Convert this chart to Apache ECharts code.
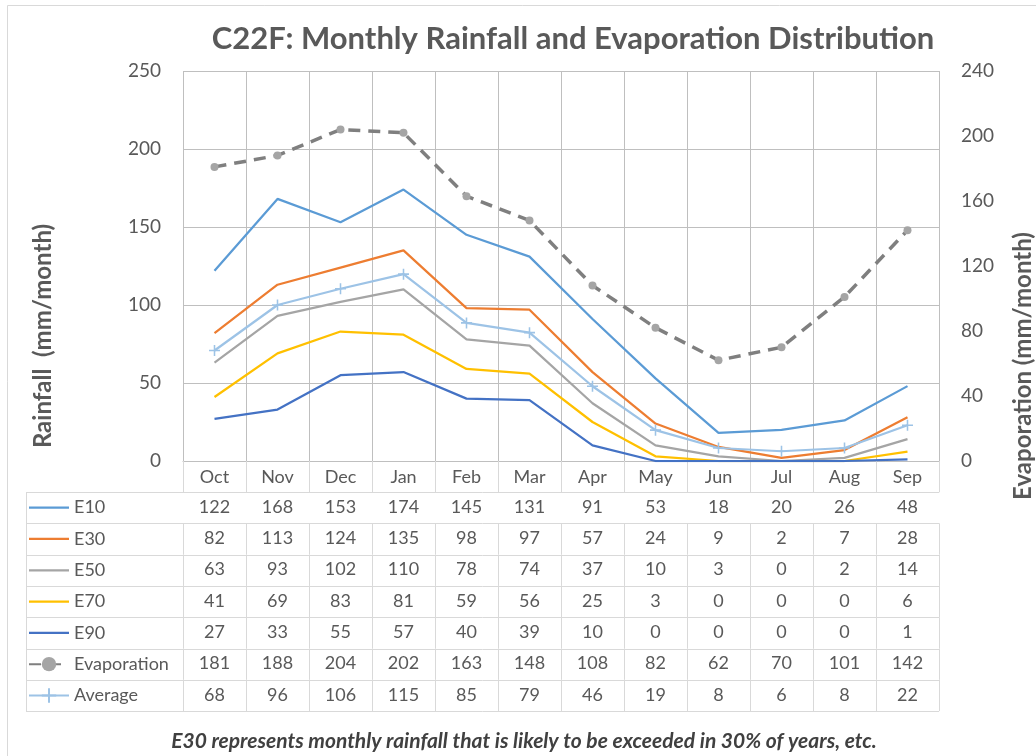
<!DOCTYPE html>
<html>
<head>
<meta charset="utf-8">
<script src="https://cdn.jsdelivr.net/npm/echarts@6/dist/echarts.min.js"></script>
<style>html,body{margin:0;padding:0;background:#fff;}#c{width:1036px;height:756px;}</style>
</head>
<body>
<div id="c"></div>
<script>
var months = ['Oct','Nov','Dec','Jan','Feb','Mar','Apr','May','Jun','Jul','Aug','Sep'];
var E10 = [122,168,153,174,145,131,91,53,18,20,26,48];
var E30 = [82,113,124,135,98,97,57,24,9,2,7,28];
var E50 = [63,93,102,110,78,74,37,10,3,0,2,14];
var E70 = [41,69,83,81,59,56,25,3,0,0,0,6];
var E90 = [27,33,55,57,40,39,10,0,0,0,0,1];
var Evaporation = [181,188,204,202,163,148,108,82,62,70,101,142];
var Average = [68,96,106,115,85,79,46,19,8,6,8,22];
var seriesNames = ['E10','E30','E50','E70','E90','Evaporation','Average'];
var rows = [E10,E30,E50,E70,E90,Evaporation,Average];
var rainTicks = {min:0,max:250,interval:50};
var evapTicks = {min:0,max:240,interval:40};

var FONT = 'Lato, "Liberation Sans", sans-serif';
var TXT = '#595959';
var GRID_L = 183, GRID_R = 939, GRID_T = 71, GRID_B = 461;
var ROW0 = 492, ROWH = 31.3;
var TBL_FS = 18;

var colors = {E10:'#5B9BD5',E30:'#ED7D31',E50:'#A5A5A5',E70:'#FFC000',E90:'#4472C4',Evaporation:'#7F7F7F',Average:'#9DC3E6'};

var xAxes = [{
  type:'category', data:months, boundaryGap:true, position:'bottom', gridIndex:0,
  axisLine:{show:true,lineStyle:{color:'#bfbfbf',width:1}},
  axisTick:{show:true,length:ROW0-GRID_B,lineStyle:{color:'#d9d9d9'}},
  splitLine:{show:true,lineStyle:{color:'#bfbfbf',width:1}},
  axisLabel:{fontSize:TBL_FS,color:TXT,fontFamily:FONT,margin:7}
}];
rows.forEach(function(r,i){
  xAxes.push({
    type:'category', data:months, boundaryGap:true, position:'bottom', gridIndex:0,
    offset:(ROW0-GRID_B)+i*ROWH,
    axisLine:{show:false},
    axisTick:{show:true,length:ROWH,lineStyle:{color:'#d9d9d9'}},
    splitLine:{show:false},
    axisLabel:{fontSize:TBL_FS,color:TXT,fontFamily:FONT,margin:6,
      formatter:function(v,idx){return String(r[idx]);}}
  });
});

var graphics = [
  {type:'rect',shape:{x:7.5,y:5.5,width:1100,height:800},style:{fill:'none',stroke:'#d9d9d9',lineWidth:1},silent:true,z:-10},
  {type:'text',x:573,y:39,style:{text:'C22F: Monthly Rainfall and Evaporation Distribution',font:'bold 31px '+FONT,fill:TXT,textAlign:'center',textVerticalAlign:'middle'}},
  {type:'text',x:43,y:336,rotation:Math.PI/2,style:{text:'Rainfall  (mm/month)',font:'bold 24px '+FONT,fill:TXT,textAlign:'center',textVerticalAlign:'middle'}},
  {type:'text',x:1023,y:366,rotation:Math.PI/2,style:{text:'Evaporation (mm/month)',font:'bold 24px '+FONT,fill:TXT,textAlign:'center',textVerticalAlign:'middle'}},
  {type:'text',x:524,y:741,style:{text:'E30 represents monthly rainfall that is likely to be exceeded in 30% of years, etc.',font:'italic bold 21px '+FONT,fill:'#404040',textAlign:'center',textVerticalAlign:'middle'}},
  {type:'line',shape:{x1:26.5,y1:ROW0,x2:26.5,y2:ROW0+7*ROWH},style:{stroke:'#d9d9d9',lineWidth:1}}
];
for (var k=0;k<=7;k++){
  var yy = Math.round(ROW0+k*ROWH)+0.5;
  graphics.push({type:'line',shape:{x1:26,y1:yy,x2:GRID_R,y2:yy},style:{stroke:'#d9d9d9',lineWidth:1}});
}

function mkSeries(name, data, yIdx){
  return {name:name,type:'line',data:data,xAxisIndex:0,yAxisIndex:yIdx,
    lineStyle:{color:colors[name],width:2.25},itemStyle:{color:colors[name]},
    symbol:'none',showSymbol:false,smooth:false,z:3};
}
var series = [
  mkSeries('E10',E10,0),
  mkSeries('E30',E30,0),
  mkSeries('E50',E50,0),
  mkSeries('E70',E70,0),
  mkSeries('E90',E90,0)
];
var ev = mkSeries('Evaporation',Evaporation,1);
ev.lineStyle = {color:'#7F7F7F',width:3.5,type:[12,8]};
ev.symbol = 'circle'; ev.showSymbol = true; ev.symbolSize = 8;
ev.itemStyle = {color:'#A5A5A5'};
ev.z = 4;
series.push(ev);
var av = mkSeries('Average',Average,1);
av.symbol = 'path://M4.3,0h1.4v4.3h4.3v1.4h-4.3v4.3h-1.4v-4.3h-4.3v-1.4h4.3z';
av.showSymbol = true; av.symbolSize = 11;
av.itemStyle = {color:'#9DC3E6'};
series.push(av);

var LINE_ICON = 'path://M0,0H160V9H0Z';
var legendData = seriesNames.map(function(n){
  if (n === 'Evaporation' || n === 'Average') return {name:n};
  return {name:n, icon:LINE_ICON};
});

var ITEM_H = 18;
var chart = echarts.init(document.getElementById('c'),null,{renderer:'canvas'});
chart.setOption({
  animation:false,
  backgroundColor:'#fff',
  textStyle:{fontFamily:FONT},
  grid:{left:GRID_L,right:1036-GRID_R,top:GRID_T,bottom:756-GRID_B,containLabel:false},
  legend:{
    data:legendData, orient:'vertical', left:28, top:ROW0+ROWH/2-ITEM_H/2,
    itemWidth:40, itemHeight:ITEM_H, itemGap:ROWH-ITEM_H, padding:0,
    textStyle:{fontSize:TBL_FS,color:TXT,fontFamily:FONT,lineHeight:ITEM_H},
    selectedMode:false
  },
  xAxis:xAxes,
  yAxis:[
    {type:'value',min:rainTicks.min,max:rainTicks.max,interval:rainTicks.interval,position:'left',
     axisLine:{show:false},axisTick:{show:false},
     splitLine:{show:true,lineStyle:{color:'#bfbfbf',width:1}},
     axisLabel:{fontSize:19,color:TXT,fontFamily:FONT,margin:22}},
    {type:'value',min:evapTicks.min,max:evapTicks.max,interval:evapTicks.interval,position:'right',
     axisLine:{show:false},axisTick:{show:false},splitLine:{show:false},
     axisLabel:{fontSize:19,color:TXT,fontFamily:FONT,margin:22}}
  ],
  graphic:graphics,
  series:series
});
</script>
</body>
</html>
